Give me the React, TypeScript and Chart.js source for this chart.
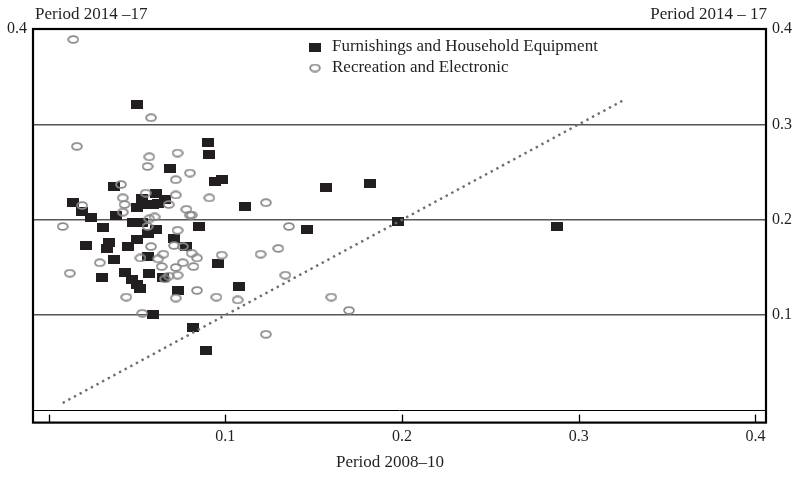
import React, { useEffect, useRef } from 'react';
import { Chart, registerables } from 'chart.js';

Chart.register(...registerables);

// ---- Data ----
const seriesNames = ['Furnishings and Household Equipment', 'Recreation and Electronic'];

const furnX = [
  0.050, 0.090, 0.091, 0.069, 0.182, 0.157, 0.094, 0.098, 0.037, 0.111,
  0.014, 0.019, 0.024, 0.061, 0.053, 0.056, 0.059, 0.062, 0.066, 0.050,
  0.038, 0.048, 0.053, 0.061, 0.031, 0.085, 0.050, 0.056, 0.045, 0.034,
  0.033, 0.021, 0.071, 0.078, 0.037, 0.056, 0.096, 0.043, 0.057, 0.030,
  0.047, 0.050, 0.052, 0.065, 0.073, 0.108, 0.059, 0.082, 0.089, 0.146,
  0.198, 0.288,
];
const furnY = [
  0.321, 0.281, 0.268, 0.254, 0.238, 0.234, 0.240, 0.242, 0.235, 0.214,
  0.218, 0.209, 0.202, 0.228, 0.222, 0.216, 0.216, 0.217, 0.221, 0.213,
  0.204, 0.197, 0.197, 0.190, 0.192, 0.193, 0.179, 0.186, 0.172, 0.176,
  0.170, 0.173, 0.180, 0.172, 0.158, 0.162, 0.154, 0.145, 0.144, 0.139,
  0.137, 0.132, 0.128, 0.139, 0.126, 0.130, 0.101, 0.087, 0.063, 0.190,
  0.198, 0.193,
];

const recX = [
  0.014, 0.058, 0.016, 0.073, 0.057, 0.056, 0.080, 0.072, 0.041, 0.072,
  0.055, 0.091, 0.123, 0.042, 0.043, 0.042, 0.019, 0.068, 0.078, 0.080,
  0.081, 0.008, 0.060, 0.057, 0.056, 0.073, 0.136, 0.058, 0.071, 0.076,
  0.065, 0.062, 0.052, 0.081, 0.084, 0.098, 0.120, 0.130, 0.029, 0.076,
  0.072, 0.082, 0.064, 0.012, 0.068, 0.073, 0.134, 0.044, 0.072, 0.084,
  0.095, 0.107, 0.160, 0.170, 0.053, 0.123, 0.066,
];
const recY = [
  0.389, 0.307, 0.277, 0.270, 0.266, 0.256, 0.249, 0.242, 0.237, 0.226,
  0.228, 0.223, 0.218, 0.223, 0.216, 0.208, 0.215, 0.216, 0.211, 0.205,
  0.205, 0.193, 0.203, 0.201, 0.193, 0.189, 0.193, 0.172, 0.173, 0.172,
  0.164, 0.159, 0.160, 0.165, 0.160, 0.163, 0.164, 0.170, 0.155, 0.155,
  0.150, 0.151, 0.151, 0.144, 0.141, 0.142, 0.142, 0.119, 0.118, 0.126,
  0.119, 0.116, 0.119, 0.105, 0.102, 0.080, 0.138,
];

// 45-degree reference line endpoints
const lineX = [0.008, 0.326];
const lineY = [0.008, 0.326];

const xTickValues = [0, 0.1, 0.2, 0.3, 0.4];
const xTickLabels = ['', '0.1', '0.2', '0.3', '0.4'];
const yTickValues = [0, 0.1, 0.2, 0.3, 0.4];
const yLeftLabels = ['', '', '', '', '0.4'];
const yRightLabels = ['', '0.1', '0.2', '0.3', '0.4'];

const xTitle = 'Period 2008–10';
const yTitleLeft = 'Period 2014 –17';
const yTitleRight = 'Period 2014 – 17';

const FONT = '"Liberation Serif", "Times New Roman", serif';
const TEXT = '#231f20';
const SQUARE_COLOR = '#231f20';
const RING_COLOR = '#8a8a8a';

function makeSquare(w: number, h: number, color: string) {
  const c = document.createElement('canvas');
  c.width = w;
  c.height = h;
  const g = c.getContext('2d')!;
  g.fillStyle = color;
  g.fillRect(0, 0, w, h);
  return c;
}

function makeRing(w: number, h: number, color: string, lw: number) {
  const c = document.createElement('canvas');
  c.width = w;
  c.height = h;
  const g = c.getContext('2d')!;
  g.strokeStyle = color;
  g.lineWidth = lw;
  g.beginPath();
  g.ellipse(w / 2, h / 2, w / 2 - lw / 2 - 0.2, h / 2 - lw / 2 - 0.2, 0, 0, Math.PI * 2);
  g.stroke();
  return c;
}

export default function App() {
  const ref = useRef<HTMLCanvasElement | null>(null);

  useEffect(() => {
    const canvas = ref.current;
    if (!canvas) return;
    const sq = makeSquare(12, 9, SQUARE_COLOR);
    const ring = makeRing(12, 9, RING_COLOR, 1.8);

    const decor = {
      id: 'decor',
      afterDraw(chart: any) {
        const { ctx, chartArea } = chart;
        const { left, right, top, bottom } = chartArea;
        const xs = chart.scales.x;
        const band = bottom + 12;
        ctx.save();
        // tick marks in the band below the plot
        ctx.strokeStyle = '#000';
        ctx.lineWidth = 1.3;
        xTickValues.forEach((v) => {
          const px = Math.round(xs.getPixelForValue(v)) + 0.5;
          ctx.beginPath();
          ctx.moveTo(px, band);
          ctx.lineTo(px, bottom + 4);
          ctx.stroke();
        });
        // outer box
        ctx.lineWidth = 2.2;
        ctx.strokeRect(left, top, right - left, band - top);
        // texts
        ctx.fillStyle = TEXT;
        ctx.font = `17px ${FONT}`;
        ctx.textBaseline = 'alphabetic';
        ctx.textAlign = 'left';
        ctx.fillText(yTitleLeft, left + 2, 19);
        ctx.textAlign = 'right';
        ctx.fillText(yTitleRight, right + 1, 19);
        ctx.textAlign = 'center';
        ctx.textBaseline = 'middle';
        ctx.fillText(xTitle, 390, 463);
        // legend
        ctx.textAlign = 'left';
        ctx.drawImage(sq, 315 - 6, 47 - 4.5);
        ctx.fillText(seriesNames[0], 332, 47);
        ctx.drawImage(ring, 315 - 6, 68 - 4.5);
        ctx.fillText(seriesNames[1], 332, 68);
        ctx.restore();
      },
    };

    const chart = new Chart(canvas, {
      type: 'scatter',
      data: {
        datasets: [
          {
            label: 'trend',
            data: lineX.map((x, i) => ({ x, y: lineY[i] })),
            showLine: true,
            borderColor: '#6e6e6e',
            borderWidth: 2.4,
            borderDash: [2.4, 4],
            pointRadius: 0,
            order: 0,
          } as any,
          {
            label: seriesNames[1],
            data: recX.map((x, i) => ({ x, y: recY[i] })),
            pointStyle: ring as any,
            pointRadius: 5,
            order: 1,
          },
          {
            label: seriesNames[0],
            data: furnX.map((x, i) => ({ x, y: furnY[i] })),
            pointStyle: sq as any,
            pointRadius: 5,
            order: 2,
          },
        ],
      },
      options: {
        responsive: false,
        animation: false,
        layout: { padding: { top: 29, left: 0, right: 0, bottom: 0 } },
        plugins: {
          legend: { display: false },
          tooltip: { enabled: false },
        },
        scales: {
          x: {
            type: 'linear',
            min: -0.0088,
            max: 0.406,
            afterBuildTicks: (s: any) => {
              s.ticks = xTickValues.map((v) => ({ value: v }));
            },
            afterFit: (s: any) => {
              s.height = 67.4;
            },
            ticks: {
              padding: 17,
              maxRotation: 0,
              autoSkip: false,
              color: TEXT,
              font: { family: FONT, size: 16 },
              callback: (_v: any, i: number) => xTickLabels[i],
            },
            grid: { display: false, drawTicks: false },
            border: { display: false },
          },
          y: {
            type: 'linear',
            position: 'left',
            min: 0,
            max: 0.4,
            afterBuildTicks: (s: any) => {
              s.ticks = yTickValues.map((v) => ({ value: v }));
            },
            afterFit: (s: any) => {
              s.width = 33;
            },
            ticks: {
              padding: 6,
              autoSkip: false,
              color: TEXT,
              font: { family: FONT, size: 16 },
              callback: (_v: any, i: number) => yLeftLabels[i],
            },
            grid: {
              drawTicks: false,
              color: (c: any) => {
                const v = c.tick ? c.tick.value : 0;
                if (v === 0) return '#000';
                if (v === 0.4) return 'rgba(0,0,0,0)';
                return '#555';
              },
              lineWidth: (c: any) => {
                const v = c.tick ? c.tick.value : 0;
                return v === 0 ? 1 : 1.5;
              },
            },
            border: { display: false },
          },
          y2: {
            type: 'linear',
            position: 'right',
            min: 0,
            max: 0.4,
            afterBuildTicks: (s: any) => {
              s.ticks = yTickValues.map((v) => ({ value: v }));
            },
            afterFit: (s: any) => {
              s.width = 37;
            },
            ticks: {
              padding: 6,
              autoSkip: false,
              color: TEXT,
              font: { family: FONT, size: 16 },
              callback: (_v: any, i: number) => yRightLabels[i],
            },
            grid: { display: false, drawTicks: false },
            border: { display: false },
          },
        },
      },
      plugins: [decor],
    });

    return () => chart.destroy();
  }, []);

  return (
    <div style={{ position: 'absolute', left: 0, top: 0, width: 803, height: 478, background: '#fff' }}>
      <canvas ref={ref} width={803} height={478} style={{ width: 803, height: 478, display: 'block' }} />
    </div>
  );
}
